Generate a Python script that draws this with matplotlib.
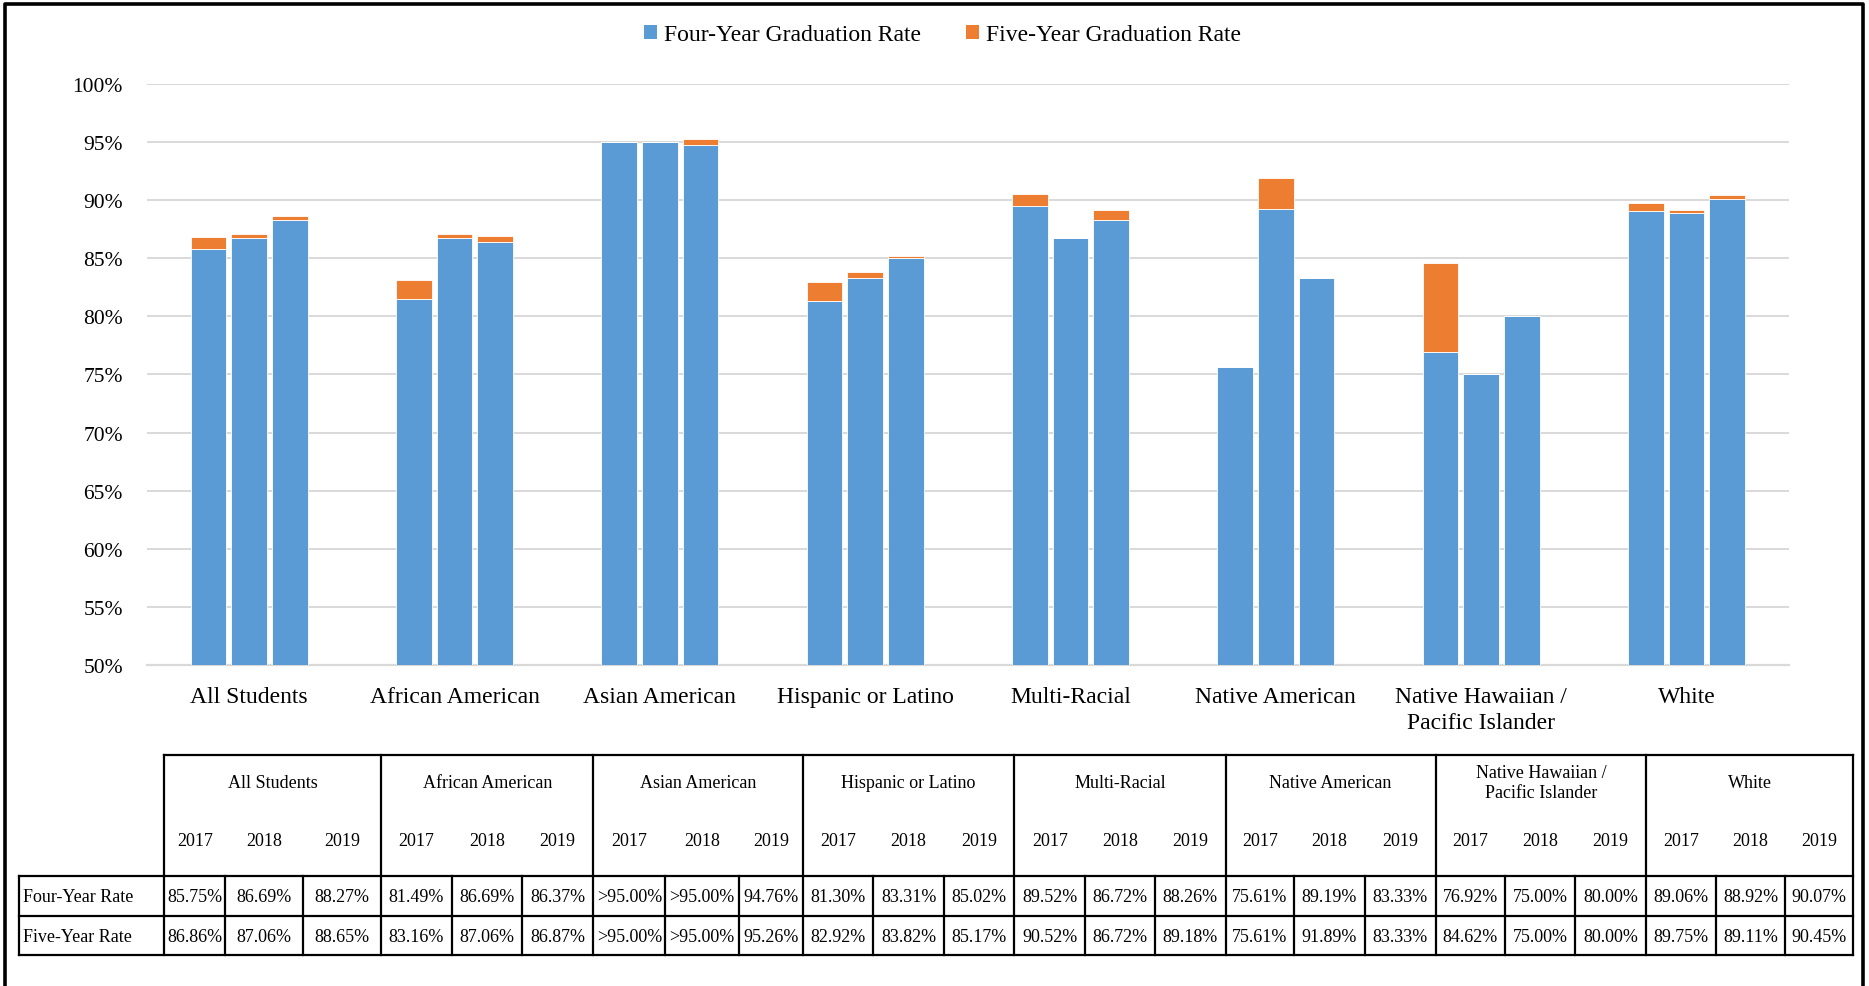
import matplotlib
matplotlib.use('Agg')
import matplotlib.pyplot as plt
from matplotlib.patches import Patch
from matplotlib.ticker import MultipleLocator, FuncFormatter
import numpy as np

plt.rcParams['font.family'] = ['Liberation Serif', 'DejaVu Serif']

# ---------------- data ----------------
categories = ['All Students', 'African American', 'Asian American', 'Hispanic or Latino',
              'Multi-Racial', 'Native American', 'Native Hawaiian /\nPacific Islander', 'White']
years = ['2017', '2018', '2019']
four_year = [[85.75, 86.69, 88.27],
             [81.49, 86.69, 86.37],
             [95.00, 95.00, 94.76],
             [81.30, 83.31, 85.02],
             [89.52, 86.72, 88.26],
             [75.61, 89.19, 83.33],
             [76.92, 75.00, 80.00],
             [89.06, 88.92, 90.07]]
five_year = [[86.86, 87.06, 88.65],
             [83.16, 87.06, 86.87],
             [95.00, 95.00, 95.26],
             [82.92, 83.82, 85.17],
             [90.52, 86.72, 89.18],
             [75.61, 91.89, 83.33],
             [84.62, 75.00, 80.00],
             [89.75, 89.11, 90.45]]
# values reported as ">95.00%"
capped_four = [[False] * 3, [False] * 3, [True, True, False], [False] * 3,
               [False] * 3, [False] * 3, [False] * 3, [False] * 3]
capped_five = [[False] * 3, [False] * 3, [True, True, False], [False] * 3,
               [False] * 3, [False] * 3, [False] * 3, [False] * 3]
series_names = ['Four-Year Graduation Rate', 'Five-Year Graduation Rate']
row_names = ['Four-Year Rate', 'Five-Year Rate']

BLUE = '#5B9BD5'
ORANGE = '#ED7D31'
GRID = '#D9D9D9'

# reference-space (display units) helpers
RW, RH = 1569.0, 828.0

fig = plt.figure(figsize=(18.69, 9.87), dpi=100)

# ---------------- chart ----------------
ax_l, ax_r, ax_t, ax_b = 123, 1502, 71, 559
ax = fig.add_axes([ax_l / RW, 1 - ax_b / RH, (ax_r - ax_l) / RW, (ax_b - ax_t) / RH])

x = np.arange(len(categories))
offsets = [-0.198, 0.0, 0.198]
bw = 0.174
for j in range(len(years)):
    four = np.array([four_year[i][j] for i in range(len(categories))])
    five = np.array([five_year[i][j] for i in range(len(categories))])
    ax.bar(x + offsets[j], four, width=bw, color=BLUE, edgecolor='white', linewidth=0.6, zorder=3)
    ax.bar(x + offsets[j], five - four, bottom=four, width=bw, color=ORANGE,
           edgecolor='white', linewidth=0.6, zorder=3)

ax.set_ylim(50, 100)
ax.set_xlim(-0.5, len(categories) - 0.5)
ax.yaxis.set_major_locator(MultipleLocator(5))
ax.yaxis.set_major_formatter(FuncFormatter(lambda v, p: f'{v:.0f}%'))
ax.grid(axis='y', color=GRID, linewidth=1.4)
ax.set_axisbelow(True)
for s in ['top', 'left', 'right']:
    ax.spines[s].set_visible(False)
ax.spines['bottom'].set_color(GRID)
ax.spines['bottom'].set_linewidth(1.6)
ax.set_xticks(x)
ax.set_xticklabels(categories, fontsize=17, linespacing=1.3)
ax.tick_params(axis='x', length=0, pad=15)
ax.tick_params(axis='y', length=0, pad=17, labelsize=15.5)

handles = [Patch(facecolor=BLUE, edgecolor='none'), Patch(facecolor=ORANGE, edgecolor='none')]
fig.legend(handles, series_names, loc='center', bbox_to_anchor=(791 / RW, 1 - 30 / RH),
           ncol=2, frameon=False, fontsize=17, handlelength=0.55, handleheight=0.55,
           handletextpad=0.3, columnspacing=1.9)

# ---------------- table ----------------
tab = fig.add_axes([0, 0, 1, 1])
tab.set_xlim(0, RW)
tab.set_ylim(RH, 0)
tab.axis('off')

edges = [15.6, 138, 189, 254.5, 320, 379.3, 437.9, 498.2, 558.4, 620.4, 673.7, 733.2,
         792.4, 851.5, 911.1, 969.5, 1029.0, 1086.6, 1145.5, 1205.1, 1263.4, 1322.3,
         1382.0, 1440.9, 1498.1, 1555.7]
y_top, y_h, y_r1, y_bot = 634.5, 735.5, 769, 802
lw = 1.6
kw = dict(color='black', lw=lw, solid_capstyle='projecting')
tab.plot([edges[1], edges[-1]], [y_top, y_top], **kw)
for yy in (y_h, y_r1, y_bot):
    tab.plot([edges[0], edges[-1]], [yy, yy], **kw)
tab.plot([edges[0], edges[0]], [y_h, y_bot], **kw)
for k in range(1, len(edges)):
    if (k - 1) % 3 == 0:
        tab.plot([edges[k], edges[k]], [y_top, y_bot], **kw)
    else:
        tab.plot([edges[k], edges[k]], [y_h, y_bot], **kw)

fs = 13
for i, cat in enumerate(categories):
    g0, g1 = edges[1 + 3 * i], edges[4 + 3 * i]
    tab.text((g0 + g1) / 2, 657, cat, ha='center', va='center', fontsize=fs, linespacing=1.25)
    for j, yr in enumerate(years):
        c0, c1 = edges[1 + 3 * i + j], edges[2 + 3 * i + j]
        cx = (c0 + c1) / 2
        tab.text(cx, 706, yr, ha='center', va='center', fontsize=fs)
        t4 = '>95.00%' if capped_four[i][j] else f'{four_year[i][j]:.2f}%'
        t5 = '>95.00%' if capped_five[i][j] else f'{five_year[i][j]:.2f}%'
        tab.text(cx, (y_h + y_r1) / 2 + 1, t4, ha='center', va='center', fontsize=fs)
        tab.text(cx, (y_r1 + y_bot) / 2 + 1, t5, ha='center', va='center', fontsize=fs)

tab.text(19, (y_h + y_r1) / 2 + 1, row_names[0], ha='left', va='center', fontsize=fs)
tab.text(19, (y_r1 + y_bot) / 2 + 1, row_names[1], ha='left', va='center', fontsize=fs)

# outer border (open at the bottom)
tab.plot([4, 4, 1564, 1564], [900, 4, 4, 900], color='black', lw=2.6, clip_on=False)

fig.savefig('out.png', dpi=100)
